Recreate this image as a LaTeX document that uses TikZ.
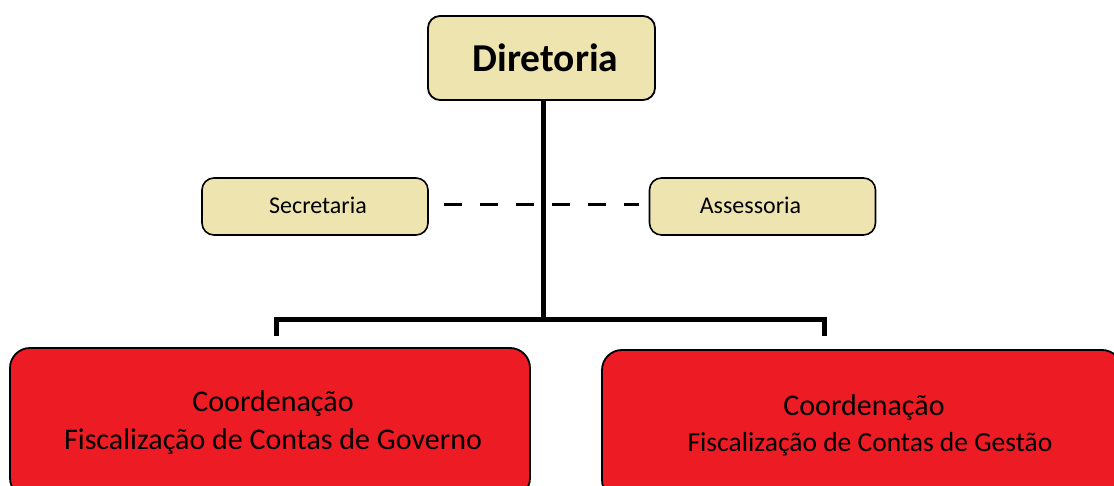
\documentclass[tikz,border=0pt]{standalone}
\usepackage{fontspec}
\setmainfont{Carlito}
\definecolor{beige}{RGB}{238,228,176}
\definecolor{redbox}{RGB}{237,28,36}
\begin{document}
\begin{tikzpicture}[x=1pt,y=-1pt,
  topbox/.style={draw=black,line width=1.8pt,fill=beige,rounded corners=12pt,inner sep=0pt},
  sidebox/.style={draw=black,line width=1.6pt,fill=beige,rounded corners=12pt,inner sep=0pt,minimum width=226pt,minimum height=57pt,font=\fontsize{24}{28}\selectfont},
  coordbox/.style={draw=black,line width=1.8pt,fill=redbox,rounded corners=20pt,inner sep=0pt,align=center},
  link/.style={line width=5pt,black},
  dashlink/.style={line width=3.5pt,black,dash pattern=on 18pt off 18pt}]
\useasboundingbox (0,0) rectangle (1114,486);
\clip (0,0) rectangle (1114,486);
\node[topbox,minimum width=227pt,minimum height=84pt,font=\bfseries\fontsize{39.5}{44}\selectfont] (dir) at (541.5,58) {\hspace*{8pt}Diretoria};
\node[sidebox] (sec) at (315,206.5) {\hspace*{6pt}\raisebox{2pt}{Secretaria}};
\node[sidebox] (ass) at (762.5,206.5) {\raisebox{2pt}{Assessoria}\hspace*{24pt}};
\node[coordbox,minimum width=520pt,minimum height=150pt,font=\fontsize{30}{38}\selectfont] (gov) at (270,423) {\hspace*{6pt}Coordenação\\\hspace*{6pt}Fiscalização de Contas de Governo};
\node[coordbox,minimum width=520pt,minimum height=150pt,font=\fontsize{27.5}{36}\selectfont] (ges) at (862,425) {\fontsize{30}{36}\selectfont \hspace*{4pt}Coordenação\\\hspace*{16pt}Fiscalização de Contas de Gestão};
\coordinate (jn) at (543,320);
\coordinate (bl) at (276,336);
\coordinate (br) at (824,336);
\draw[link] (dir.south -| jn) -- (jn);
\draw[link] (bl) -- ++(0,-16) -| (br);
\draw[dashlink] ([xshift=15pt,yshift=2pt]sec.east) -- ([xshift=-10pt,yshift=2pt]ass.west);
\end{tikzpicture}
\end{document}
